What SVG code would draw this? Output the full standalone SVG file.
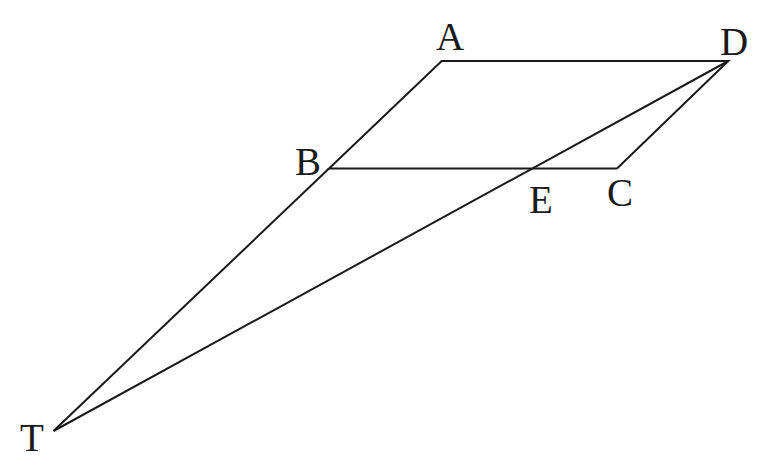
<svg xmlns="http://www.w3.org/2000/svg" width="768" height="470" viewBox="0 0 768 470">
<style>
.l{stroke:#1a1a1a;stroke-width:2;fill:none;stroke-linejoin:miter}
.t{font-family:"Liberation Serif",serif;font-size:39px;fill:#1a1a1a;text-anchor:middle}
</style>
<rect width="768" height="470" fill="#fff"/>
<g id="connectors">
<polyline class="l" points="617,168.5 329,168.5 441.7,61 728.3,61 617,168.5"/>
<line class="l" x1="329" y1="168.5" x2="53.5" y2="431"/>
<polyline class="l" points="728.3,61 53.5,431"/>
</g>
<g id="A"><text class="t" x="450" y="50">A</text></g>
<g id="D"><text class="t" x="734" y="55">D</text></g>
<g id="B"><text class="t" x="308" y="175">B</text></g>
<g id="C"><text class="t" x="620" y="206">C</text></g>
<g id="E"><text class="t" x="541" y="213">E</text></g>
<g id="T"><text class="t" x="32" y="451">T</text></g>
</svg>
